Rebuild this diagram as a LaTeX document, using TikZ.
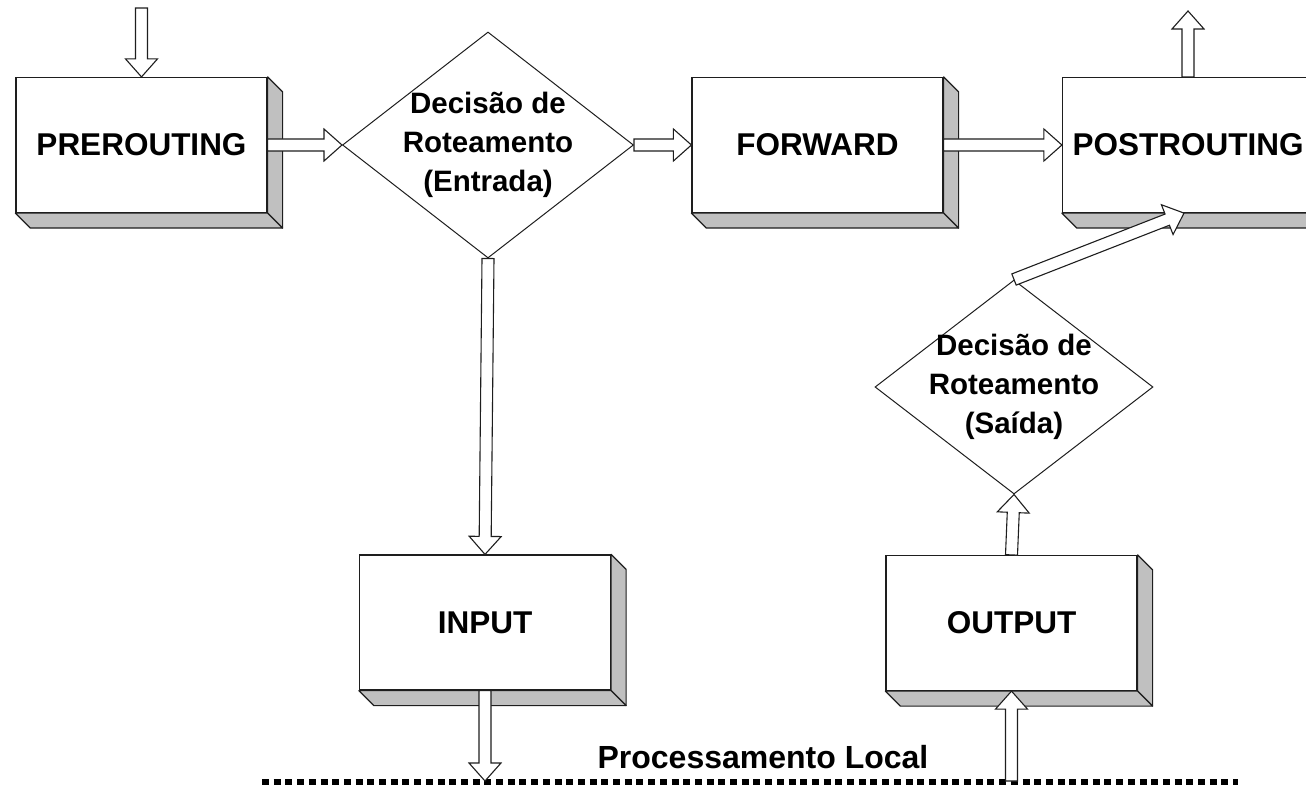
\documentclass[tikz,border=0pt]{standalone}
\usepackage{fontspec}
\setmainfont{Liberation Sans}
\usetikzlibrary{calc,shapes.geometric}

\definecolor{bevelgray}{HTML}{C0C0C0}
\definecolor{inkline}{HTML}{1E1E1E}

\tikzset{
	chain box/.style={draw=inkline, fill=white, line width=1.2pt, minimum width=251pt, minimum height=135pt, font=\fontsize{31.5}{36}\selectfont\bfseries},
	decision/.style={draw=inkline, diamond, line width=1pt, inner sep=0pt},
	dectext/.style={align=center, font=\fontsize{29.5}{39}\selectfont\bfseries},
	bevelface/.style={draw=inkline, fill=bevelgray, line width=1.2pt, line join=round},
	hollow/.style={draw=inkline, fill=white, line width=1.1pt, line join=miter},
	localline/.style={line width=5.5pt, dash pattern=on 7pt off 4.7pt},
}

% bevel on the right and bottom side of a box
\newcommand{\bevel}[1]{
	\filldraw[bevelface] (#1.north east) -- ++(15,15) -- ([shift={(15,15)}]#1.south east) -- (#1.south east) -- cycle;
	\filldraw[bevelface] (#1.south west) -- ++(15,15) -- ([shift={(15,15)}]#1.south east) -- (#1.south east) -- cycle;
}

% hollow block arrow from #1 to #2
\newcommand{\blockarrow}[2]{
	\coordinate (ba-a) at #1;
	\coordinate (ba-b) at #2;
	\coordinate (ba-h) at ($(ba-b)!18pt!(ba-a)$);
	\draw[hollow] ($(ba-a)!6pt!90:(ba-b)$) -- ($(ba-h)!6pt!90:(ba-b)$) -- ($(ba-h)!16pt!90:(ba-b)$)
		-- (ba-b) -- ($(ba-h)!16pt!-90:(ba-b)$) -- ($(ba-h)!6pt!-90:(ba-b)$) -- ($(ba-a)!6pt!-90:(ba-b)$) -- cycle;
}

\begin{document}
\begin{tikzpicture}[x=1pt, y=-1pt]
\useasboundingbox (0,0) rectangle (1306,786);
\clip (0,0) rectangle (1306,786);

% boxes
\node[chain box] (pre) at (141.5,145) {PREROUTING};
\node[chain box] (fwd) at (817.5,145) {FORWARD};
\node[chain box] (post) at (1188,145) {POSTROUTING};
\node[chain box] (in) at (485,622.5) {INPUT};
\node[chain box] (out) at (1011.5,623) {OUTPUT};
\bevel{pre}
\bevel{fwd}
\bevel{post}
\bevel{in}
\bevel{out}

% routing decisions
\node[decision, minimum width=291pt, minimum height=226pt] (dec1) at (488,145)
	{} node[dectext] at (dec1.center) {Decisão de\\Roteamento\\(Entrada)};
\node[decision, minimum width=278pt, minimum height=214pt] (dec2) at (1014,387)
	{} node[dectext] at (dec2.center) {Decisão de\\Roteamento\\(Saída)};

% local processing
\node[font=\fontsize{32}{38}\selectfont\bfseries] (local) at (763,757) {Processamento Local};
\draw[localline] (262,782) -- (1238,782);

\coordinate (pkt-in) at (141.5,8);
\coordinate (pkt-out) at (1188,11);
\coordinate (loc-in) at (485,781);
\coordinate (loc-out) at (1011.5,781);

% arrows
\blockarrow{(pkt-in)}{(pre.north)}
\blockarrow{(pre.east)}{(dec1.west)}
\blockarrow{(dec1.east)}{(fwd.west)}
\blockarrow{(fwd.east)}{(post.west)}
\blockarrow{(post.north)}{(pkt-out)}
\blockarrow{(dec1.south)}{(in.north)}
\blockarrow{(in.south)}{(loc-in)}
\blockarrow{(loc-out)}{(out.south)}
\blockarrow{(out.north)}{(dec2.south)}
\blockarrow{(dec2.north)}{([xshift=-4pt]post.south)}
\end{tikzpicture}
\end{document}
